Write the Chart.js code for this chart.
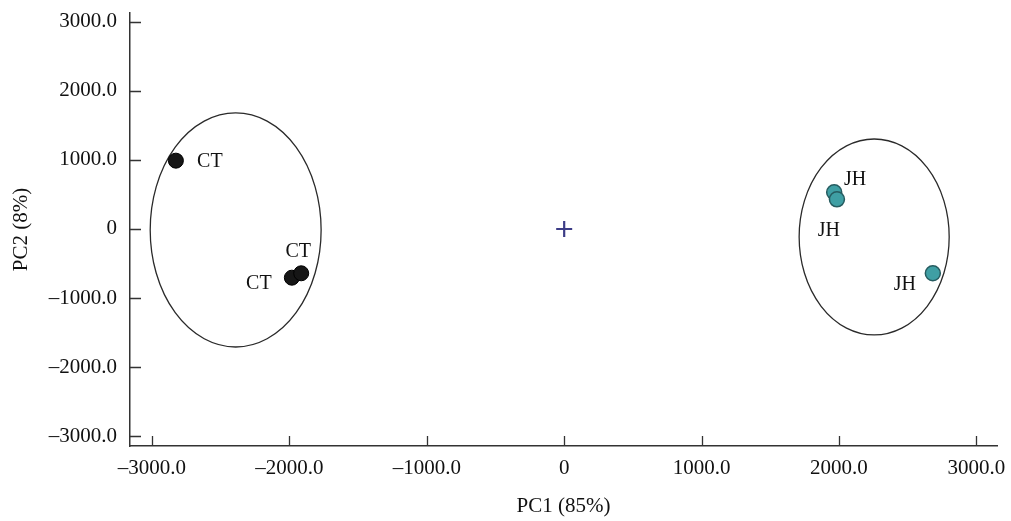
<!DOCTYPE html>
<html>
<head>
<meta charset="utf-8">
<script src="https://cdn.jsdelivr.net/npm/chart.js@4.4.1/dist/chart.umd.min.js"></script>
<style>
  html, body { margin: 0; padding: 0; background: #fff; }
  #wrap { width: 1011px; height: 521px; }
</style>
</head>
<body>
<div id="wrap"><canvas id="pca"></canvas></div>
<script>
// sample scores (PC1, PC2)
const ctX = [-2826, -1982, -1914];
const ctY = [990, -706, -642];
const jhX = [1965, 1985, 2683];
const jhY = [532, 430, -642];
const groupNames = ['CT', 'JH'];

// group confidence ellipses: centre and half-axes in data units
const ellipseCx = [-2391, 2256];
const ellipseCy = [-14, -116];
const ellipseRx = [622, 546];
const ellipseRy = [1696, 1420];

const xTicks = [-3000, -2000, -1000, 0, 1000, 2000, 3000];
const yTicks = [-3000, -2000, -1000, 0, 1000, 2000, 3000];

const serif = '"Liberation Serif", "Times New Roman", serif';

function fmt(v) {
    if (v === 0) return '0';
    return (v < 0 ? '\u2013' : '') + Math.abs(v).toFixed(1);
}

// label offsets (px) per point, relative to the marker
const labelOffsets = {
    0: [[34, 1], [-33, 6], [-3, -22]],
    1: [[21, -13], [-8, 31], [-28, 11]]
};

const ellipsePlugin = {
    id: 'ellipses',
    beforeDatasetsDraw(chart) {
        const { ctx, scales: { x, y } } = chart;
        ctx.save();
        ctx.strokeStyle = '#2a2a2a';
        ctx.lineWidth = 1.3;
        for (let i = 0; i < ellipseCx.length; i++) {
            const cx = x.getPixelForValue(ellipseCx[i]);
            const cy = y.getPixelForValue(ellipseCy[i]);
            const rx = Math.abs(x.getPixelForValue(ellipseCx[i] + ellipseRx[i]) - cx);
            const ry = Math.abs(y.getPixelForValue(ellipseCy[i] + ellipseRy[i]) - cy);
            ctx.beginPath();
            ctx.ellipse(cx, cy, rx, ry, 0, 0, Math.PI * 2);
            ctx.stroke();
        }
        ctx.restore();
    }
};

const labelPlugin = {
    id: 'pointLabels',
    afterDatasetsDraw(chart) {
        const { ctx } = chart;
        ctx.save();
        ctx.font = '20px ' + serif;
        ctx.fillStyle = '#111';
        ctx.textAlign = 'center';
        ctx.textBaseline = 'middle';
        [0, 1].forEach(di => {
            const meta = chart.getDatasetMeta(di);
            meta.data.forEach((pt, i) => {
                const off = labelOffsets[di][i];
                ctx.fillText(groupNames[di], pt.x + off[0], pt.y + off[1]);
            });
        });
        ctx.restore();
    }
};

// tick marks pointing into the plot
const innerTicks = {
    id: 'innerTicks',
    afterDraw(chart) {
        const { ctx, chartArea, scales: { x, y } } = chart;
        ctx.save();
        ctx.strokeStyle = '#333';
        ctx.lineWidth = 1.3;
        ctx.beginPath();
        xTicks.forEach(v => {
            const px = Math.round(x.getPixelForValue(v)) + 0.5;
            ctx.moveTo(px, chartArea.bottom);
            ctx.lineTo(px, chartArea.bottom - 10);
        });
        yTicks.forEach(v => {
            const py = Math.round(y.getPixelForValue(v)) + 0.5;
            ctx.moveTo(chartArea.left, py);
            ctx.lineTo(chartArea.left + 11, py);
        });
        ctx.stroke();
        ctx.restore();
    }
};

new Chart(document.getElementById('pca'), {
    type: 'scatter',
    data: {
        datasets: [
            {
                label: 'CT',
                data: ctX.map((v, i) => ({ x: v, y: ctY[i] })),
                backgroundColor: '#161616',
                borderColor: '#000',
                borderWidth: 1,
                pointRadius: 7.5
            },
            {
                label: 'JH',
                data: jhX.map((v, i) => ({ x: v, y: jhY[i] })),
                backgroundColor: '#3f9fa4',
                borderColor: '#265c60',
                borderWidth: 1.5,
                pointRadius: 7.5
            },
            {
                label: 'origin',
                data: [{ x: 0, y: 0 }],
                pointStyle: 'cross',
                pointRadius: 8,
                borderColor: '#3c3c86',
                borderWidth: 2.2
            }
        ]
    },
    options: {
        responsive: true,
        maintainAspectRatio: false,
        animation: false,
        layout: { padding: { top: 13, right: 14, left: 0, bottom: 0 } },
        plugins: {
            legend: { display: false },
            tooltip: { enabled: false }
        },
        scales: {
            x: {
                type: 'linear',
                min: -3160,
                max: 3150,
                afterBuildTicks: s => { s.ticks = xTicks.map(v => ({ value: v })); },
                afterFit: s => { s.height = 75; s.paddingLeft = 0; s.paddingRight = 0; },
                grid: { display: false, drawTicks: false },
                border: { display: true, color: '#333', width: 1.5 },
                ticks: {
                    padding: 10,
                    color: '#111',
                    font: { family: serif, size: 21 },
                    callback: v => fmt(v),
                    maxRotation: 0
                },
                title: {
                    display: true,
                    text: 'PC1 (85%)',
                    color: '#111',
                    font: { family: serif, size: 21 },
                    padding: { top: 0, bottom: 2 }
                }
            },
            y: {
                type: 'linear',
                min: -3145,
                max: 3130,
                afterBuildTicks: s => { s.ticks = yTicks.map(v => ({ value: v })); },
                afterFit: s => { s.width = 130; s.paddingTop = 0; s.paddingBottom = 0; },
                grid: { display: false, drawTicks: false },
                border: { display: true, color: '#333', width: 1.5 },
                ticks: {
                    padding: 13,
                    color: '#111',
                    font: { family: serif, size: 21 },
                    callback: v => fmt(v)
                },
                title: {
                    display: true,
                    text: 'PC2 (8%)',
                    color: '#111',
                    font: { family: serif, size: 21 },
                    padding: { top: 9, bottom: 0 }
                }
            }
        }
    },
    plugins: [ellipsePlugin, labelPlugin, innerTicks]
});
</script>
</body>
</html>
